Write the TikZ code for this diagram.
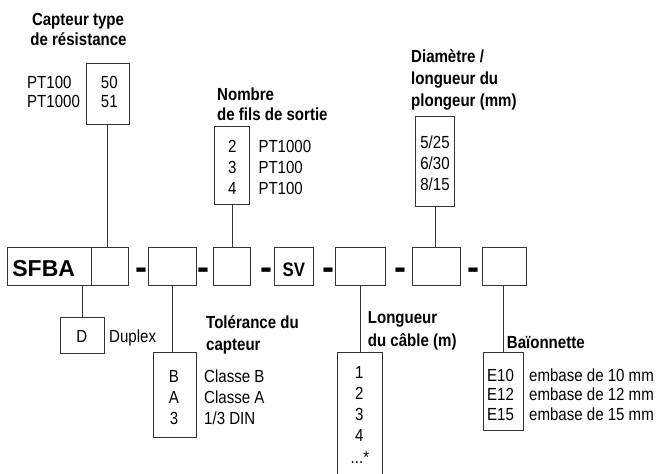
\documentclass[tikz,border=0pt]{standalone}
\usepackage{fontspec}
\setmainfont{Liberation Sans}[FakeStretch=0.86]
\newfontfamily\bigsans{Liberation Sans}
\begin{document}
\begin{tikzpicture}[x=1pt,y=-1pt,
  box/.style={draw=black!80, line width=0.9pt, inner sep=0pt, anchor=north west},
  conn/.style={draw=black!80, line width=0.9pt},
  txt/.style={inner sep=0pt, font=\fontsize{17.5}{20}\selectfont},
  ttl/.style={inner sep=0pt, anchor=base west, font=\fontsize{17.5}{20}\selectfont\bfseries},
  lw/.style={txt, anchor=base west},
  lc/.style={txt, anchor=base},
  dashmark/.style={inner sep=0pt, anchor=base, font=\bigsans\fontsize{36}{40}\selectfont\bfseries}]
\clip (0,0) rectangle (657,474);
\fill[white] (0,0) rectangle (657,474);
% ---------- main row boxes ----------
\node[box, minimum width=83.4pt, minimum height=37.7pt] (sfba) at (7.3,247.3) {};
\node[box, minimum width=37pt,   minimum height=37.7pt] (c1) at (90.7,247.3) {};
\node[box, minimum width=47.7pt, minimum height=37.7pt] (c2) at (148.3,247.3) {};
\node[box, minimum width=37.3pt, minimum height=37.7pt] (c3) at (212.7,247.3) {};
\node[box, minimum width=39pt,   minimum height=37.7pt] (sv) at (274,247.3) {};
\node[box, minimum width=50.3pt, minimum height=37.7pt] (c5) at (334.8,247.3) {};
\node[box, minimum width=48pt,   minimum height=37.7pt] (c6) at (412,247.3) {};
\node[box, minimum width=44.3pt, minimum height=37.7pt] (c7) at (481.7,247.3) {};
\node[inner sep=0pt, anchor=base west, font=\bigsans\fontsize{23}{26}\selectfont\bfseries] (sfbat) at (12.2,276.7) {SFBA};
\node[inner sep=0pt, anchor=base, font=\fontsize{19.5}{22}\selectfont\bfseries] (svt) at (293.8,276) {SV};
\node[dashmark] (d1) at (141.7,279) {-};
\node[dashmark] (d2) at (203.8,279) {-};
\node[dashmark] (d3) at (266,279) {-};
\node[dashmark] (d4) at (328.3,279) {-};
\node[dashmark] (d5) at (400,279) {-};
\node[dashmark] (d6) at (473.5,279) {-};
% ---------- top: capteur type ----------
\node[inner sep=0pt, anchor=base, font=\fontsize{17.5}{20}\selectfont\bfseries] (t1a) at (78,25.5) {Capteur type};
\node[inner sep=0pt, anchor=base, font=\fontsize{17.5}{20}\selectfont\bfseries] (t1b) at (78.5,45.5) {de résistance};
\node[box, minimum width=43.3pt, minimum height=60.7pt] (tb1) at (85.7,63.3) {};
\node[lw] (p1) at (27,88.8) {PT100};
\node[lw] (p2) at (27,107.2) {PT1000};
\node[lc] (v50) at (109.3,88.8) {50};
\node[lc] (v51) at (109.3,107.2) {51};
\draw[conn] (tb1.south) -- (tb1.south |- c1.north);
% ---------- top: nombre de fils ----------
\node[ttl] (t3a) at (217,100.5) {Nombre};
\node[ttl] (t3b) at (217,120.5) {de fils de sortie};
\node[box, minimum width=35pt, minimum height=78.3pt] (tb3) at (214.3,125.7) {};
\node[lc] (n2) at (232.3,152.5) {2};
\node[lc] (n3) at (232.3,173.5) {3};
\node[lc] (n4) at (232.3,194.5) {4};
\node[lw] (n2t) at (258.3,152.5) {PT1000};
\node[lw] (n3t) at (258.3,173.5) {PT100};
\node[lw] (n4t) at (258.3,194.5) {PT100};
\draw[conn] (tb3.south) -- (tb3.south |- c3.north);
% ---------- top: diametre ----------
\node[ttl] (t6a) at (411,62.5) {Diamètre /};
\node[ttl] (t6b) at (411,84.5) {longueur du};
\node[ttl] (t6c) at (411,106.5) {plongeur (mm)};
\node[box, minimum width=39pt, minimum height=89.7pt] (tb6) at (415.3,116) {};
\node[lc] (m1) at (435,148.5) {5/25};
\node[lc] (m2) at (435,169.5) {6/30};
\node[lc] (m3) at (435,190.5) {8/15};
\draw[conn] (tb6.south) -- (tb6.south |- c6.north);
% ---------- bottom: duplex ----------
\node[box, minimum width=43.7pt, minimum height=36.6pt] (bD) at (60,316.7) {};
\node[lc] (dl) at (81.9,342) {D};
\node[lw] (dt) at (109,342) {Duplex};
\draw[conn] (bD.north) -- (bD.north |- sfba.south);
% ---------- bottom: tolerance ----------
\node[ttl] (t2a) at (206,328.5) {Tolérance du};
\node[ttl] (t2b) at (206,350.5) {capteur};
\node[box, minimum width=43.6pt, minimum height=85pt] (b2) at (152.7,351.7) {};
\node[lc] (k1) at (174,382) {B};
\node[lc] (k2) at (174,403.3) {A};
\node[lc] (k3) at (174,424.3) {3};
\node[lw] (k1t) at (204,382) {Classe B};
\node[lw] (k2t) at (204,403.3) {Classe A};
\node[lw] (k3t) at (204,424.3) {1/3 DIN};
\draw[conn] (c2.south) -- (c2.south |- b2.north);
% ---------- bottom: cable ----------
\node[ttl] (t5a) at (367.7,323.5) {Longueur};
\node[ttl] (t5b) at (367.7,346.3) {du câble (m)};
\node[box, minimum width=44.4pt, minimum height=140pt] (b5) at (337.3,352) {};
\node[lc] (l1) at (359.3,378.3) {1};
\node[lc] (l2) at (359.3,399.5) {2};
\node[lc] (l3) at (359.3,420.3) {3};
\node[lc] (l4) at (359.3,441) {4};
\node[lw] (l5) at (350.5,463) {...*};
\draw[conn] (c5.south) -- (c5.south |- b5.north);
% ---------- bottom: baionnette ----------
\node[ttl] (t7) at (506.7,348.3) {Baïonnette};
\node[box, minimum width=40pt, minimum height=77.7pt] (b7) at (482.7,352.3) {};
\node[lc] (e1) at (500.5,381.3) {E10};
\node[lc] (e2) at (500.5,400.8) {E12};
\node[lc] (e3) at (500.5,420.3) {E15};
\node[lw] (e1t) at (529,381.3) {embase de 10 mm};
\node[lw] (e2t) at (529,400.8) {embase de 12 mm};
\node[lw] (e3t) at (529,420.3) {embase de 15 mm};
\draw[conn] (b7.north) -- (b7.north |- c7.south);
\end{tikzpicture}
\end{document}
